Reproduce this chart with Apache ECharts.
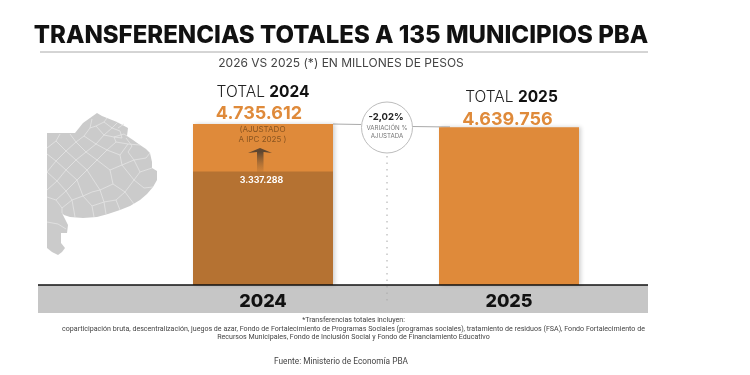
<!DOCTYPE html>
<html><head><meta charset="utf-8">
<style>html,body{margin:0;padding:0;background:#fff}#c{width:750px;height:375px}</style>
<script src="https://cdn.jsdelivr.net/npm/echarts@6/dist/echarts.min.js"></script>
</head><body><div id="c"></div>
<script>
const categories = ['2024', '2025'];
const totalValues = [4735612, 4639756];
const baseValues = [3337288, null];
const titleText = 'TRANSFERENCIAS TOTALES A 135 MUNICIPIOS PBA';
const subtitleText = '2026 VS 2025 (*) EN MILLONES DE PESOS';
const variationText = '-2,02%';
const footnotes = [
 '*Transferencias totales incluyen:',
 'coparticipación bruta, descentralización, juegos de azar, Fondo de Fortalecimiento de Programas Sociales (programas sociales), tratamiento de residuos (FSA), Fondo Fortalecimiento de',
 'Recursos Municipales, Fondo de Inclusión Social y Fondo de Financiamiento Educativo'];
const sourceText = 'Fuente: Ministerio de Economía PBA';

const fmt = v => v.toLocaleString('de-DE');
const HEAD = 'Inter, "Noto Sans", sans-serif';
const FOOT = 'Roboto, sans-serif';
const ORANGE = '#DF8A3A', DARK = '#B57232';

const mapOutline = [[47,133],[75,133],[79,128],[83,123],[90,118],[97,113],[102,116],[107,118],[117,122],[128,128],[127,136],[133,140],[140,145],[146,149],[150,153],[152,162],[152,168],[157,171],[157,180],[153,187],[147,194],[140,200],[130,206],[120,210],[108,214],[97,217],[83,218],[70,217],[64,215],[62,213],[65,219],[68,225],[67,233],[61,233],[61,243],[65,248],[62,252],[58,255],[52,252],[47,248]];
const mapLines = [
 [[47,148],[56,141],[60,134]],[[56,141],[66,151],[76,142],[70,134]],[[76,142],[84,136],[90,128],[92,119]],
 [[66,151],[56,161],[47,154]],[[56,161],[66,170],[76,160],[66,151]],[[76,160],[86,152],[76,142]],
 [[86,152],[96,144],[84,136]],[[96,144],[104,135],[96,126],[90,128]],[[104,135],[114,137],[124,134],[127,136]],
 [[96,126],[104,122],[112,128],[104,135]],[[112,128],[118,122]],[[112,128],[120,131]],[[107,118],[104,122]],
 [[47,172],[56,161]],[[47,172],[57,181],[66,170]],[[57,181],[47,190]],[[57,181],[66,191],[77,180],[66,170]],
 [[77,180],[87,170],[76,160]],[[87,170],[97,160],[86,152]],[[97,160],[107,150],[96,144]],[[107,150],[116,142],[114,137]],
 [[116,142],[128,144],[140,145]],[[107,150],[120,155],[128,144]],[[120,155],[122,165],[110,170],[97,160]],
 [[110,170],[113,184],[100,190],[87,170]],[[122,165],[134,160],[128,152]],[[134,160],[146,158],[150,153]],[[134,160],[140,172],[152,168]],
 [[140,172],[134,180],[122,165]],[[134,180],[144,188],[153,187]],[[134,180],[125,192],[113,184]],[[125,192],[134,204]],
 [[125,192],[116,200],[120,210]],[[116,200],[104,202],[100,190]],[[104,202],[106,214]],[[104,202],[92,206],[94,217]],
 [[92,206],[83,196],[77,180]],[[83,196],[72,200],[66,191]],[[72,200],[75,217]],[[72,200],[62,208],[62,213]],[[66,191],[56,200],[47,197]],
 [[56,200],[62,208]],[[47,222],[58,224],[66,229]],[[118,128],[124,124]],[[120,131],[122,138],[114,137]],[[126,138],[132,146],[128,152]],[[83,196],[92,192],[100,190]]
];

const graphic = [
 {type:'rect',z:0,shape:{x:38,y:285,width:610,height:28},style:{fill:'#C6C6C6'}},
 {type:'line',z:5,shape:{x1:38,y1:285,x2:648,y2:285},style:{stroke:'#111',lineWidth:1.5}},
 {type:'line',shape:{x1:40,y1:52,x2:648,y2:52},style:{stroke:'#AAAAAA',lineWidth:1}},
 {type:'text',style:{x:341,y:36,text:titleText,align:'center',verticalAlign:'middle',font:'800 24px '+HEAD,fill:'#111'}},
 {type:'text',style:{x:341,y:63,text:subtitleText,align:'center',verticalAlign:'middle',font:'400 12px '+HEAD,fill:'#444'}},
 {type:'polygon',z:1,shape:{points:mapOutline},style:{fill:'#CBCBCB'}}
];
mapLines.forEach(p=>graphic.push({type:'polyline',z:2,shape:{points:p},style:{stroke:'#E4E4E4',lineWidth:0.8,fill:null}}));
graphic.push(
 {type:'line',z:1,shape:{x1:387,y1:156,x2:387,y2:305},style:{stroke:'#A8A8A8',lineWidth:1,lineDash:[1.5,5]}},
 {type:'line',z:1,shape:{x1:333,y1:124,x2:361,y2:124.5},style:{stroke:'#AAAAAA',lineWidth:1}},
 {type:'line',z:1,shape:{x1:412,y1:126.5,x2:450,y2:127},style:{stroke:'#AAAAAA',lineWidth:1}},
 {type:'circle',z:3,shape:{cx:387,cy:127.5,r:25.5},style:{fill:'#fff',stroke:'#BDBDBD',lineWidth:1}},
 {type:'text',z:4,style:{x:386,y:117,text:variationText,align:'center',verticalAlign:'middle',font:'700 9.5px '+HEAD,fill:'#222'}},
 {type:'text',z:4,style:{x:387,y:128,text:'VARIACIÓN %',align:'center',verticalAlign:'middle',font:'400 6.2px '+HEAD,fill:'#777'}},
 {type:'text',z:4,style:{x:387,y:136,text:'AJUSTADA',align:'center',verticalAlign:'middle',font:'400 6.2px '+HEAD,fill:'#777'}},
 {type:'text',z:20,style:{x:262.5,y:130,text:'(AJUSTADO',align:'center',verticalAlign:'middle',font:'400 8px '+HEAD,fill:'#8A5520'}},
 {type:'text',z:20,style:{x:262.5,y:140,text:'A IPC 2025 )',align:'center',verticalAlign:'middle',font:'400 8px '+HEAD,fill:'#8A5520'}},
 {type:'polygon',z:20,shape:{points:[[248,153],[260,148],[272,153],[264,152],[257,152]]},style:{fill:'#5E4630'}},
 {type:'rect',z:20,shape:{x:257,y:152,width:6.5,height:20},style:{fill:{type:'linear',x:0,y:0,x2:0,y2:1,colorStops:[{offset:0,color:'#5E4630'},{offset:1,color:'rgba(181,114,50,0.3)'}]}}},
 {type:'text',z:20,style:{x:261.5,y:180,text:fmt(baseValues[0]),align:'center',verticalAlign:'middle',font:'700 8.8px '+HEAD,fill:'#fff'}},
 {type:'text',style:{x:353.5,y:320.5,text:footnotes[0],align:'center',verticalAlign:'middle',font:'400 7.1px '+FOOT,fill:'#444'}},
 {type:'text',style:{x:353.5,y:329,text:footnotes[1],align:'center',verticalAlign:'middle',font:'400 7.1px '+FOOT,fill:'#444'}},
 {type:'text',style:{x:353.5,y:337.5,text:footnotes[2],align:'center',verticalAlign:'middle',font:'400 7.1px '+FOOT,fill:'#444'}},
 {type:'text',style:{x:274,y:362,text:sourceText,align:'left',verticalAlign:'middle',font:'400 8.3px '+FOOT,fill:'#444'}}
);

const labelRich = {
  t:{fontFamily:HEAD,fontSize:15.5,fontWeight:300,color:'#222',lineHeight:22},
  y:{fontFamily:HEAD,fontSize:15.5,fontWeight:700,color:'#111',lineHeight:22},
  v:{fontFamily:HEAD,fontSize:18,fontWeight:700,color:ORANGE,lineHeight:22,padding:[0,8,0,0]}
};
const labelOffsets = [[0,1],[2.5,3.5]];
const chart = echarts.init(document.getElementById('c'),null,{renderer:'canvas'});
chart.setOption({
  animation:false,
  backgroundColor:'#fff',
  graphic,
  grid:{left:140,width:492,top:115,height:170},
  xAxis:{type:'category',data:categories,axisLine:{show:false},axisTick:{show:false},
    axisLabel:{margin:8,fontFamily:HEAD,fontSize:18,fontWeight:800,color:'#111'},z:10},
  yAxis:{type:'value',min:0,max:5000000,show:false,splitLine:{show:false}},
  series:[
   {name:'Total',type:'bar',barWidth:140,barGap:'-100%',z:3,
    data:totalValues.map((v,i)=>({value:v,label:{offset:labelOffsets[i]}})),
    itemStyle:{color:ORANGE,shadowColor:'rgba(0,0,0,0.18)',shadowBlur:4,shadowOffsetX:2},
    label:{show:true,position:'top',distance:0,
      formatter:p=>`{t|TOTAL }{y|${categories[p.dataIndex]}}\n{v|${fmt(p.value)}}`,
      rich:labelRich}},
   {name:'Base',type:'bar',barWidth:140,barGap:'-100%',z:4,data:baseValues,itemStyle:{color:DARK}}
  ]
});
</script></body></html>
